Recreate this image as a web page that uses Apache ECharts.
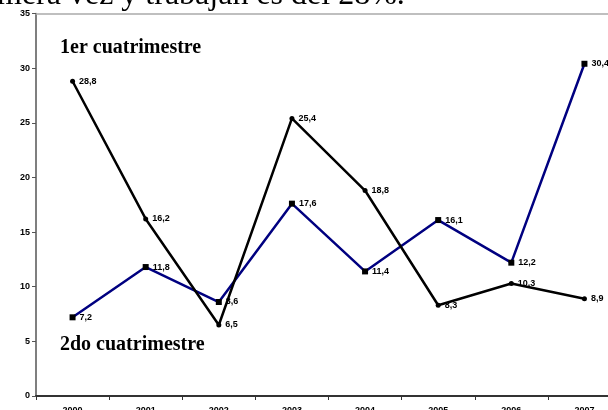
<!DOCTYPE html>
<html>
<head>
<meta charset="utf-8">
<script src="https://cdn.jsdelivr.net/npm/echarts@6/dist/echarts.min.js"></script>
<style>html,body{margin:0;padding:0;background:#fff;}#c{width:608px;height:410px;}</style>
</head>
<body>
<div id="c"></div>
<script>
var years = ['2000','2001','2002','2003','2004','2005','2006','2007'];
var primerCuatri = [28.8, 16.2, 6.5, 25.4, 18.8, 8.3, 10.3, 8.9];
var segundoCuatri = [7.2, 11.8, 8.6, 17.6, 11.4, 16.1, 12.2, 30.4];
var yTicks = [0, 5, 10, 15, 20, 25, 30, 35];
var titleText = 'mera vez y trabajan es del 28%.';
var label1 = '1er cuatrimestre';
var label2 = '2do cuatrimestre';

var chart = echarts.init(document.getElementById('c'));
var lbl = {
  show: true, position: 'right', distance: 4,
  fontFamily: 'Liberation Sans, Arial', fontWeight: 'bold', fontSize: 9, color: '#000',
  formatter: function (p) { return String(p.value).replace('.', ','); }
};
chart.setOption({
  animation: false,
  backgroundColor: '#fff',
  grid: { left: 36, top: 13.5, width: 585, height: 382.5, containLabel: false, outerBoundsMode: 'none' },
  xAxis: [{
    type: 'category', data: years, boundaryGap: true, position: 'bottom',
    axisLine: { lineStyle: { color: '#333', width: 2 } },
    axisTick: { show: true, length: 4, lineStyle: { color: '#333', width: 1 } },
    axisLabel: { margin: 10, fontFamily: 'Liberation Sans, Arial', fontWeight: 'bold', fontSize: 9, color: '#000' }
  }, {
    type: 'category', data: years, position: 'top',
    axisLine: { show: true, lineStyle: { color: '#aaa', width: 1.5 } },
    axisTick: { show: false }, axisLabel: { show: false }
  }],
  yAxis: {
    type: 'value', min: yTicks[0], max: yTicks[yTicks.length - 1], interval: 5,
    axisLine: { show: true, lineStyle: { color: '#555', width: 1.5 } },
    axisTick: { show: true, length: 4, lineStyle: { color: '#555' } },
    splitLine: { show: false },
    axisLabel: { margin: 6, fontFamily: 'Liberation Sans, Arial', fontWeight: 'bold', fontSize: 9, color: '#000' }
  },
  series: [{
    name: label2, type: 'line', data: segundoCuatri,
    lineStyle: { color: '#000080', width: 2.5 },
    itemStyle: { color: '#000' },
    symbol: 'rect', symbolSize: 6, label: lbl, z: 2
  }, {
    name: label1, type: 'line', data: primerCuatri,
    lineStyle: { color: '#000', width: 2.5 },
    itemStyle: { color: '#000' },
    symbol: 'circle', symbolSize: 5, label: lbl, z: 3
  }],
  graphic: [{
    type: 'text', left: -3, top: -20, z: 10,
    style: { text: titleText, font: '32px "Liberation Serif", "Times New Roman", serif', fill: '#000' }
  }, {
    type: 'text', left: 60, top: 38, z: 10,
    style: { text: label1, font: 'bold 20px "Liberation Serif", "Times New Roman", serif', fill: '#000' }
  }, {
    type: 'text', left: 60, top: 335, z: 10,
    style: { text: label2, font: 'bold 20px "Liberation Serif", "Times New Roman", serif', fill: '#000' }
  }]
});
</script>
</body>
</html>
